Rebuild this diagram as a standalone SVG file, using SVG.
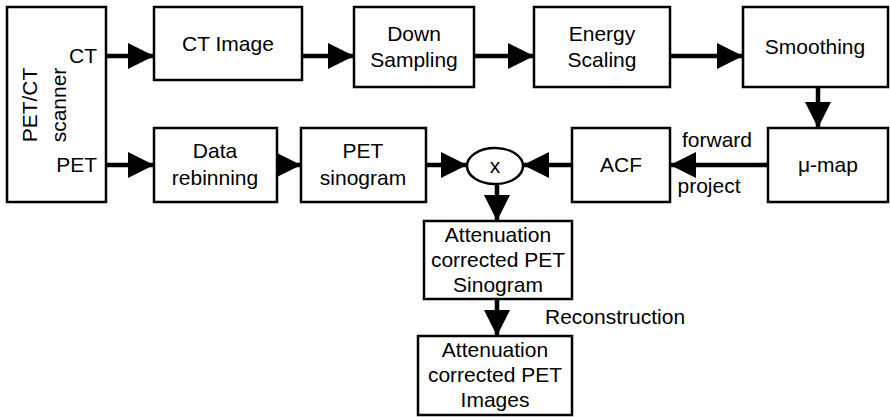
<svg xmlns="http://www.w3.org/2000/svg" width="890" height="417" viewBox="0 0 890 417">
  <style>
    .box { fill: #fff; stroke: #000; stroke-width: 2.5; }
    .t { font-family: "Liberation Sans", Arial, sans-serif; font-size: 21px; fill: #000; text-anchor: middle; }
    .l { text-anchor: start; }
    .r { text-anchor: end; }
    .c { stroke: #000; stroke-width: 4.5; fill: none; marker-end: url(#ah); }
  </style>
  <defs>
    <marker id="ah" viewBox="0 0 26 26" refX="26" refY="13" markerWidth="26" markerHeight="26" markerUnits="userSpaceOnUse" orient="auto">
      <path d="M0,0 L26,13 L0,26 Z" fill="#000"/>
    </marker>
  </defs>
  <rect width="890" height="417" fill="#fff"/>

  <g id="connectors">
    <line class="c" x1="106" y1="56" x2="154" y2="56"/>
    <line class="c" x1="302" y1="56" x2="354" y2="56"/>
    <line class="c" x1="474" y1="56" x2="534" y2="56"/>
    <line class="c" x1="670" y1="56" x2="743" y2="56"/>
    <line class="c" x1="818" y1="87" x2="818" y2="128"/>
    <line class="c" x1="106" y1="165" x2="154" y2="165"/>
    <line class="c" x1="277" y1="165" x2="301" y2="165"/>
    <line class="c" x1="426" y1="165" x2="467" y2="165"/>
    <line class="c" x1="572" y1="165" x2="523" y2="165"/>
    <line class="c" x1="768" y1="165" x2="670" y2="165"/>
    <line class="c" x1="497" y1="184" x2="497" y2="221"/>
    <line class="c" x1="497" y1="299" x2="497" y2="336"/>
    <text class="t" x="717" y="147">forward</text>
    <text class="t" x="709" y="193">project</text>
    <text class="t l" x="545" y="324">Reconstruction</text>
  </g>

  <g id="scanner">
    <rect class="box" x="7" y="7" width="99" height="195"/>
    <text class="t" transform="translate(37,105) rotate(-90)">PET/CT</text>
    <text class="t" transform="translate(66,105) rotate(-90)">scanner</text>
    <text class="t r" x="97" y="63">CT</text>
    <text class="t r" x="97" y="172">PET</text>
  </g>

  <g id="ct-image">
    <rect class="box" x="154" y="7" width="148" height="73"/>
    <text class="t" x="228" y="51">CT Image</text>
  </g>

  <g id="down-sampling">
    <rect class="box" x="354" y="7" width="120" height="80"/>
    <text class="t" x="414" y="41">Down</text>
    <text class="t" x="414" y="67">Sampling</text>
  </g>

  <g id="energy-scaling">
    <rect class="box" x="534" y="7" width="136" height="80"/>
    <text class="t" x="602" y="41">Energy</text>
    <text class="t" x="602" y="67">Scaling</text>
  </g>

  <g id="smoothing">
    <rect class="box" x="743" y="7" width="145" height="80"/>
    <text class="t" x="815" y="54">Smoothing</text>
  </g>

  <g id="data-rebinning">
    <rect class="box" x="154" y="128" width="123" height="74"/>
    <text class="t" x="215" y="158">Data</text>
    <text class="t" x="215" y="185">rebinning</text>
  </g>

  <g id="pet-sinogram">
    <rect class="box" x="301" y="128" width="125" height="74"/>
    <text class="t" x="363" y="158">PET</text>
    <text class="t" x="363" y="185">sinogram</text>
  </g>

  <g id="multiply">
    <ellipse class="box" cx="495" cy="166" rx="28" ry="18"/>
    <text class="t" x="495" y="173">x</text>
  </g>

  <g id="acf">
    <rect class="box" x="572" y="128" width="98" height="74"/>
    <text class="t" x="621" y="172">ACF</text>
  </g>

  <g id="mu-map">
    <rect class="box" x="768" y="128" width="120" height="74"/>
    <text class="t" x="828" y="172">μ-map</text>
  </g>

  <g id="corrected-sinogram">
    <rect class="box" x="424" y="221" width="148" height="78"/>
    <text class="t" x="498" y="242">Attenuation</text>
    <text class="t" x="498" y="267">corrected PET</text>
    <text class="t" x="498" y="292">Sinogram</text>
  </g>

  <g id="corrected-images">
    <rect class="box" x="418" y="336" width="154" height="79"/>
    <text class="t" x="495" y="357">Attenuation</text>
    <text class="t" x="495" y="382">corrected PET</text>
    <text class="t" x="495" y="407">Images</text>
  </g>
</svg>
